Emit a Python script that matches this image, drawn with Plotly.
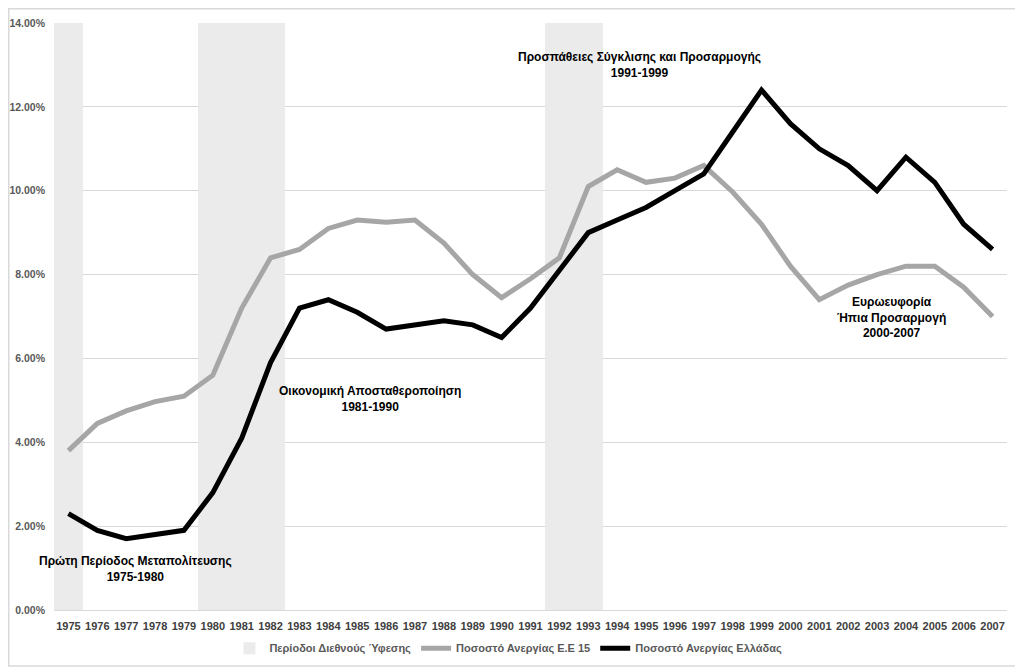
import plotly.graph_objects as go

years = [str(y) for y in range(1975, 2008)]
greece = [2.3, 1.9, 1.7, 1.8, 1.9, 2.8, 4.1, 5.9, 7.2, 7.4, 7.1, 6.7, 6.8, 6.9, 6.8, 6.5,
          7.2, 8.1, 9.0, 9.3, 9.6, 10.0, 10.4, 11.4, 12.4, 11.6, 11.0, 10.6, 10.0, 10.8,
          10.2, 9.2, 8.6]
eu15 = [3.8, 4.45, 4.75, 4.97, 5.1, 5.6, 7.2, 8.4, 8.6, 9.1, 9.3, 9.25, 9.3, 8.75, 8.0, 7.45,
        7.9, 8.4, 10.1, 10.5, 10.2, 10.3, 10.6, 9.97, 9.2, 8.2, 7.4, 7.75, 8.0, 8.2,
        8.2, 7.7, 7.0]
recession_years = ["1975", "1980", "1981", "1982", "1992", "1993"]
recession = [14.0 if y in recession_years else None for y in years]

name_rec = "Περίοδοι Διεθνούς Ύφεσης"
name_eu = "Ποσοστό Ανεργίας Ε.Ε 15"
name_gr = "Ποσοστό Ανεργίας Ελλάδας"

annotations_text = [
    ("Πρώτη Περίοδος Μεταπολίτευσης<br>1975-1980", 2.32, 0.97),
    ("Οικονομική Αποσταθεροποίηση<br>1981-1990", 10.44, 5.03),
    ("Προσπάθειες Σύγκλισης και Προσαρμογής<br>1991-1999", 19.77, 13.0),
    ("Ευρωευφορία<br>Ήπια Προσαρμογή<br>2000-2007", 28.5, 6.97),
]

fig = go.Figure()
fig.add_trace(go.Bar(x=years, y=recession, name=name_rec,
                     marker=dict(color="#ebebeb", line=dict(width=0))))
fig.add_trace(go.Scatter(x=years, y=eu15, name=name_eu, mode="lines",
                         line=dict(color="#a6a6a6", width=5)))
fig.add_trace(go.Scatter(x=years, y=greece, name=name_gr, mode="lines",
                         line=dict(color="#000000", width=5)))

for txt, xv, yv in annotations_text:
    fig.add_annotation(x=xv, y=yv, xref="x", yref="y", text=txt, showarrow=False,
                       font=dict(family="Liberation Sans", size=12, color="#000000", weight="bold"),
                       align="center")

W, H = 1015, 660
ml, mr, mt, mb = 46, 16, 15, 58
pw, ph = W - ml - mr, H - mt - mb
fig.add_shape(type="rect", xref="paper", yref="paper",
              x0=(0.75 - ml) / pw, x1=(W - 2 - ml) / pw,
              y0=-(mb - 2) / ph, y1=1 + (mt - 0.75) / ph,
              line=dict(color="#d9d9d9", width=1.5), fillcolor="rgba(0,0,0,0)", layer="below")

fig.update_layout(
    width=W, height=H,
    margin=dict(l=ml, r=mr, t=mt, b=mb),
    paper_bgcolor="white", plot_bgcolor="white",
    bargap=0, barmode="overlay",
    font=dict(family="Liberation Sans", color="#595959"),
    showlegend=True,
    legend=dict(orientation="h", xref="container", yref="container", x=0.493, y=0.03,
                xanchor="center", yanchor="middle",
                font=dict(size=11, color="#595959", weight="bold"), itemwidth=30,
                traceorder="normal"),
    xaxis=dict(type="category", range=[-0.5, 32.5], showgrid=False, showline=False,
               ticks="", automargin=False, ticklabelstandoff=8,
               tickfont=dict(size=11, color="#404040", weight="bold"), tickangle=0),
    yaxis=dict(range=[0, 14], dtick=2, tickformat=".2f", ticksuffix="%", automargin=False,
               showgrid=True, gridcolor="#d9d9d9", gridwidth=1, zeroline=True,
               zerolinecolor="#d9d9d9", zerolinewidth=1, showline=False, ticks="",
               ticklabelstandoff=8,
               tickfont=dict(size=10.5, color="#595959", weight="bold")),
)

fig.write_html("out.html")
